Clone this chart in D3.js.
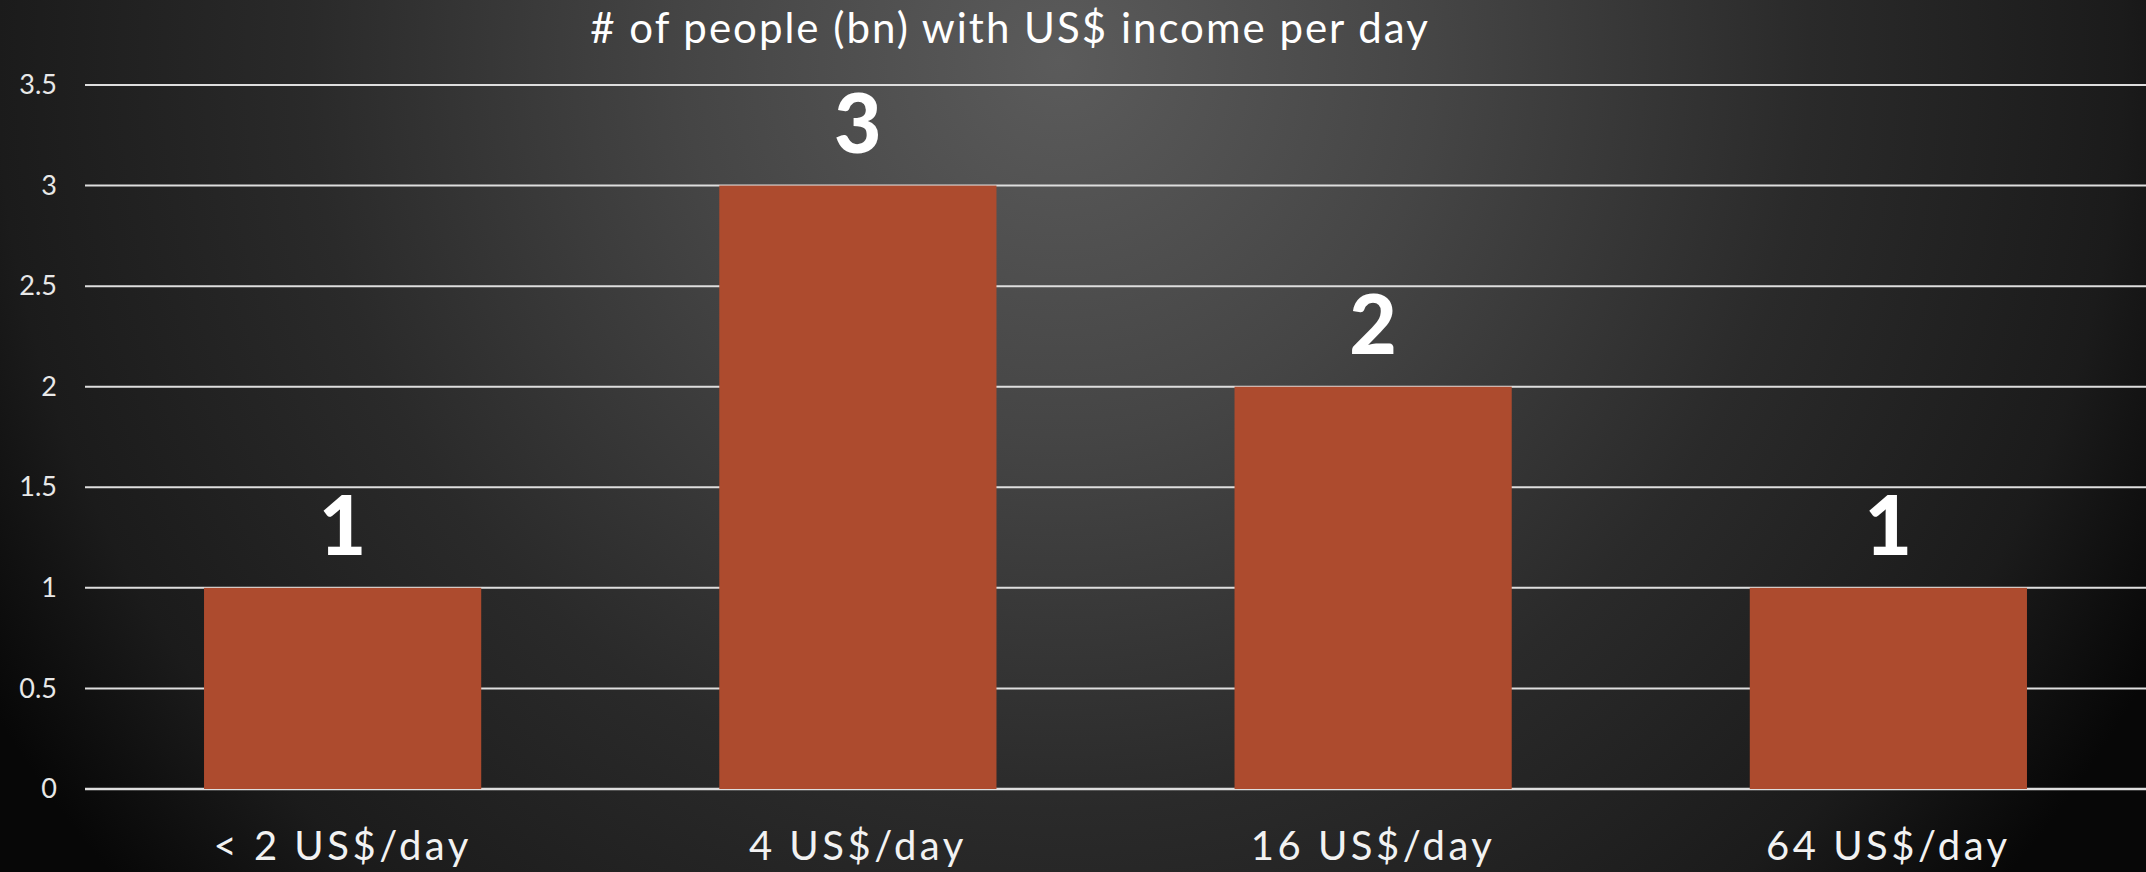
<!DOCTYPE html>
<html>
<head>
<meta charset="utf-8">
<script src="https://cdn.jsdelivr.net/npm/d3@7/dist/d3.min.js"></script>
<style>
  html, body { margin: 0; padding: 0; background: #000; }
  svg { display: block; }
  text { font-family: "Lato", "Noto Sans", sans-serif; }
</style>
</head>
<body>
<svg id="chart" width="2146" height="872"></svg>
<script>
const categories = ["< 2 US$/day", "4 US$/day", "16 US$/day", "64 US$/day"];
const values = [1, 3, 2, 1];
const yTicks = [0, 0.5, 1, 1.5, 2, 2.5, 3, 3.5];
const titleText = "# of people (bn) with US$ income per day";

const W = 2146, H = 872;
const svg = d3.select("#chart");

// background
const defs = svg.append("defs");
const grad = defs.append("radialGradient")
  .attr("id", "bg").attr("gradientUnits", "userSpaceOnUse")
  .attr("cx", 1060).attr("cy", 60).attr("r", 1250)
  .attr("fx", 1060).attr("fy", 60);
[[0, "#5b5b5b"], [0.3, "#454545"], [0.6, "#2a2a2a"], [0.85, "#1b1b1b"], [1, "#070707"]]
  .forEach(([o, c]) => grad.append("stop").attr("offset", o).attr("stop-color", c));
svg.append("rect").attr("width", W).attr("height", H).attr("fill", "url(#bg)");

const margin = { left: 85, right: 0, top: 85, bottom: 83 };
const x = d3.scaleBand().domain(categories)
  .range([margin.left, W - margin.right])
  .paddingInner(0.462).paddingOuter(0.231);
const y = d3.scaleLinear().domain([0, 3.5]).range([H - margin.bottom, margin.top]);

// gridlines
svg.append("g").selectAll("line").data(yTicks).join("line")
  .attr("x1", margin.left).attr("x2", W)
  .attr("y1", d => y(d)).attr("y2", d => y(d))
  .attr("stroke", "#dedede").attr("stroke-width", d => d === 0 ? 2.5 : 2);

// y axis labels
const yAxis = d3.axisLeft(y).tickValues(yTicks).tickSize(0).tickPadding(0)
  .tickFormat(d => String(d));
const yg = svg.append("g").attr("transform", `translate(57,0)`).call(yAxis);
yg.select(".domain").remove();
yg.selectAll("text").attr("fill", "#e8e8e8").style("font-size", "27px")
  .style("font-family", "Lato, 'Noto Sans', sans-serif");

// bars
svg.append("g").selectAll("rect").data(values).join("rect")
  .attr("x", (d, i) => x(categories[i]))
  .attr("width", x.bandwidth())
  .attr("y", d => y(d))
  .attr("height", d => y(0) - y(d))
  .attr("fill", "#ad4b2e");

// value labels
svg.append("g").selectAll("text").data(values).join("text")
  .attr("x", (d, i) => x(categories[i]) + x.bandwidth() / 2)
  .attr("y", d => y(d) - 33)
  .attr("text-anchor", "middle")
  .attr("fill", "#ffffff")
  .style("font-size", "82px").style("font-weight", "900")
  .text(d => d);

// x axis labels
const xAxis = d3.axisBottom(x).tickSize(0).tickPadding(0);
const xg = svg.append("g").attr("transform", `translate(0,${y(0)})`).call(xAxis);
xg.select(".domain").remove();
xg.selectAll("text").attr("fill", "#f2f2f2").attr("dy", null).attr("y", 71)
  .style("font-size", "40px").style("letter-spacing", "3.5px")
  .style("font-family", "Lato, 'Noto Sans', sans-serif");

// title
svg.append("text")
  .attr("x", 1010).attr("y", 43)
  .attr("text-anchor", "middle")
  .attr("fill", "#ffffff")
  .style("font-size", "42px").style("letter-spacing", "2px")
  .text(titleText);
</script>
</body>
</html>
